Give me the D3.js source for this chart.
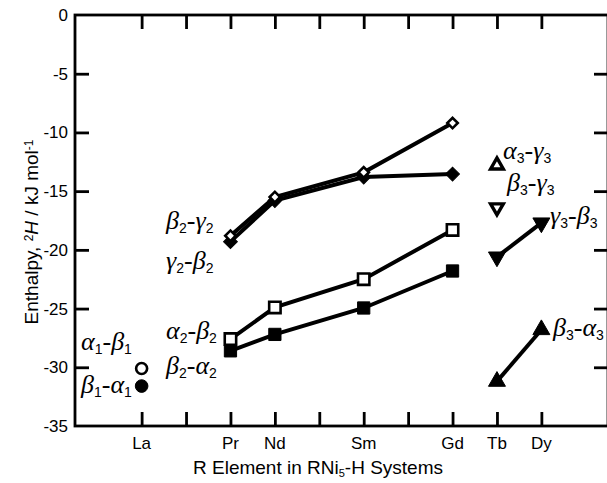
<!DOCTYPE html>
<html>
<head>
<meta charset="utf-8">
<script src="https://cdn.jsdelivr.net/npm/d3@7/dist/d3.min.js"></script>
<style>
  body { margin: 0; background: #fff; }
  svg { display: block; }
  .tick-label { font-family: "Liberation Sans", Arial, sans-serif; font-size: 17px; }
  .greek { font-family: "Liberation Serif", "Times New Roman", serif; font-size: 26px; font-style: italic; }
</style>
</head>
<body>
<svg id="chart" width="607" height="483"></svg>
<script>
// atomic numbers for the x axis
var elementNums = [57, 58, 59, 60, 61, 62, 63, 64, 65, 66];
var elementNames = ["La", "", "Pr", "Nd", "", "Sm", "", "Gd", "Tb", "Dy"];
var yTicks = [0, -5, -10, -15, -20, -25, -30, -35];

// series (x = atomic number)
var laX = [57];
var alpha1Beta1 = [-30.1];
var beta1Alpha1 = [-31.6];

var lanthX = [59, 60, 62, 64];      // Pr, Nd, Sm, Gd
var alpha2Beta2 = [-27.6, -24.9, -22.5, -18.3];
var beta2Alpha2 = [-28.6, -27.2, -24.95, -21.8];
var beta2Gamma2 = [-18.8, -15.5, -13.4, -9.2];
var gamma2Beta2 = [-19.3, -15.8, -13.8, -13.55];

var tbX = [65];
var alpha3Gamma3 = [-12.8];
var beta3Gamma3 = [-16.4];
var tbDyX = [65, 66];
var gamma3Beta3 = [-20.6, -17.7];
var beta3Alpha3 = [-31.2, -26.8];

var svg = d3.select("#chart");
var mLeft = 75, mRight = 608, mTop = 15, mBottom = 426;

var x = d3.scaleLinear().domain([55.5, 67.5]).range([mLeft, mRight]);
var y = d3.scaleLinear().domain([-35, 0]).range([mBottom, mTop]);

// frame
svg.append("rect")
  .attr("x", mLeft).attr("y", mTop)
  .attr("width", mRight - mLeft).attr("height", mBottom - mTop)
  .attr("fill", "none").attr("stroke", "#000").attr("stroke-width", 2.8);

// ticks (all pointing inward)
var tl = 14;
svg.append("g").attr("transform", `translate(${mLeft},0)`)
  .call(d3.axisRight(y).tickValues(yTicks.slice(1, -1)).tickSize(tl).tickFormat(""))
  .call(g => g.select(".domain").remove())
  .selectAll("line").attr("stroke-width", 2.8);
svg.append("g").attr("transform", `translate(${mRight},0)`)
  .call(d3.axisLeft(y).tickValues(yTicks.slice(1, -1)).tickSize(tl).tickFormat(""))
  .call(g => g.select(".domain").remove())
  .selectAll("line").attr("stroke-width", 2.8);
svg.append("g").attr("transform", `translate(0,${mBottom})`)
  .call(d3.axisTop(x).tickValues(elementNums).tickSize(tl).tickFormat(""))
  .call(g => g.select(".domain").remove())
  .selectAll("line").attr("stroke-width", 2.8);
svg.append("g").attr("transform", `translate(0,${mTop})`)
  .call(d3.axisBottom(x).tickValues(elementNums).tickSize(tl).tickFormat(""))
  .call(g => g.select(".domain").remove())
  .selectAll("line").attr("stroke-width", 2.8);

// tick labels
svg.selectAll(".ylab").data(yTicks).enter().append("text")
  .attr("class", "tick-label")
  .attr("x", mLeft - 7).attr("y", d => y(d) + 6)
  .attr("text-anchor", "end")
  .text(d => d);
svg.selectAll(".xlab").data(elementNums).enter().append("text")
  .attr("class", "tick-label")
  .attr("x", d => x(d)).attr("y", mBottom + 23)
  .attr("text-anchor", "middle")
  .text((d, i) => elementNames[i]);

// axis titles
var xt = svg.append("text").attr("class", "tick-label")
  .attr("x", 318).attr("y", 474).attr("text-anchor", "middle").style("font-size", "19px");
xt.append("tspan").text("R Element in RNi");
xt.append("tspan").attr("baseline-shift", "-30%").style("font-size", "11px").text("5");
xt.append("tspan").text("-H Systems");

var yt = svg.append("text").attr("class", "tick-label")
  .attr("transform", "translate(38,232) rotate(-90)")
  .attr("text-anchor", "middle").style("font-size", "19px");
yt.append("tspan").text("Enthalpy, ");
yt.append("tspan").attr("baseline-shift", "40%").style("font-size", "12px").text("2");
yt.append("tspan").style("font-style", "italic").text("H");
yt.append("tspan").text(" / kJ mol");
yt.append("tspan").attr("baseline-shift", "40%").style("font-size", "12px").text("-1");

// lines
var line = d3.line().x(d => x(d[0])).y(d => y(d[1]));
function drawLine(xs, vals) {
  svg.append("path")
    .datum(xs.map((v, i) => [v, vals[i]]))
    .attr("d", line)
    .attr("fill", "none").attr("stroke", "#000").attr("stroke-width", 4);
}
drawLine(lanthX, alpha2Beta2);
drawLine(lanthX, beta2Alpha2);
drawLine(lanthX, beta2Gamma2);
drawLine(lanthX, gamma2Beta2);
drawLine(tbDyX, gamma3Beta3);
drawLine(tbDyX, beta3Alpha3);

// markers
function drawMarks(xs, vals, type, size, filled, rot, sw) {
  svg.append("g").selectAll("path")
    .data(xs.map((v, i) => [v, vals[i]]))
    .enter().append("path")
    .attr("d", d3.symbol().type(type).size(size))
    .attr("transform", d => `translate(${x(d[0])},${y(d[1])}) rotate(${rot || 0})`)
    .attr("fill", filled ? "#000" : "#fff")
    .attr("stroke", "#000").attr("stroke-width", sw || (filled ? 1 : 2.6));
}
drawMarks(lanthX, gamma2Beta2, d3.symbolSquare, 95, true, 45);
drawMarks(lanthX, beta2Gamma2, d3.symbolSquare, 55, false, 45);
drawMarks(lanthX, beta2Alpha2, d3.symbolSquare, 150, true);
drawMarks(lanthX, alpha2Beta2, d3.symbolSquare, 130, false);
drawMarks(laX, alpha1Beta1, d3.symbolCircle, 95, false);
drawMarks(laX, beta1Alpha1, d3.symbolCircle, 125, true);
drawMarks(tbX, alpha3Gamma3, d3.symbolTriangle, 70, false, 0, 3.4);
drawMarks(tbX, beta3Gamma3, d3.symbolTriangle, 70, false, 180, 3.4);
drawMarks(tbDyX, gamma3Beta3, d3.symbolTriangle, 125, true, 180);
drawMarks(tbDyX, beta3Alpha3, d3.symbolTriangle, 125, true);

// greek labels
function greekLabel(px, py, a, b, n) {
  var t = svg.append("text").attr("class", "greek").attr("x", px).attr("y", py);
  t.append("tspan").text(a);
  t.append("tspan").attr("baseline-shift", "-25%").style("font-size", "14px").style("font-style", "normal")
    .style("font-family", "Liberation Sans, Arial, sans-serif").text(n);
  t.append("tspan").style("font-style", "normal").text("-");
  t.append("tspan").text(b);
  t.append("tspan").attr("baseline-shift", "-25%").style("font-size", "14px").style("font-style", "normal")
    .style("font-family", "Liberation Sans, Arial, sans-serif").text(n);
}
greekLabel(81, 350, "α", "β", "1");
greekLabel(81, 393, "β", "α", "1");
greekLabel(166, 339, "α", "β", "2");
greekLabel(166, 374, "β", "α", "2");
greekLabel(166, 229, "β", "γ", "2");
greekLabel(166, 269, "γ", "β", "2");
greekLabel(503, 159, "α", "γ", "3");
greekLabel(507, 191, "β", "γ", "3");
greekLabel(550, 224, "γ", "β", "3");
greekLabel(553, 336, "β", "α", "3");
</script>
</body>
</html>
